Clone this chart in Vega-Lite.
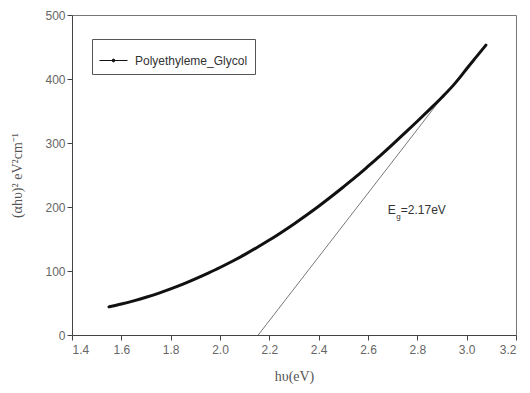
{
  "$schema": "https://vega.github.io/schema/vega-lite/v6.json",
  "width": 444,
  "height": 320,
  "autosize": "none",
  "padding": {"left": 72, "top": 15, "right": 14, "bottom": 58},
  "background": "white",
  "config": {
    "view": {"stroke": "#777", "strokeWidth": 1},
    "axis": {"grid": false, "domainColor": "#444", "tickColor": "#444", "labelColor": "#666", "labelFont": "Liberation Sans", "labelFontSize": 12, "titleFont": "Liberation Serif", "titleFontWeight": "normal", "titleFontSize": 14, "titleColor": "#555", "tickSize": 5}
  },
  "datasets": {
    "curve": [
      {"x": 1.55, "y": 44, "s": "Polyethyleme_Glycol"},
      {"x": 1.60, "y": 48.4, "s": "Polyethyleme_Glycol"},
      {"x": 1.65, "y": 53.4, "s": "Polyethyleme_Glycol"},
      {"x": 1.70, "y": 58.9, "s": "Polyethyleme_Glycol"},
      {"x": 1.75, "y": 65.1, "s": "Polyethyleme_Glycol"},
      {"x": 1.80, "y": 72.0, "s": "Polyethyleme_Glycol"},
      {"x": 1.85, "y": 79.4, "s": "Polyethyleme_Glycol"},
      {"x": 1.90, "y": 87.6, "s": "Polyethyleme_Glycol"},
      {"x": 1.95, "y": 96.4, "s": "Polyethyleme_Glycol"},
      {"x": 2.00, "y": 105.5, "s": "Polyethyleme_Glycol"},
      {"x": 2.05, "y": 115.2, "s": "Polyethyleme_Glycol"},
      {"x": 2.10, "y": 125.6, "s": "Polyethyleme_Glycol"},
      {"x": 2.15, "y": 136.7, "s": "Polyethyleme_Glycol"},
      {"x": 2.20, "y": 148.3, "s": "Polyethyleme_Glycol"},
      {"x": 2.25, "y": 160.7, "s": "Polyethyleme_Glycol"},
      {"x": 2.30, "y": 173.6, "s": "Polyethyleme_Glycol"},
      {"x": 2.35, "y": 187.1, "s": "Polyethyleme_Glycol"},
      {"x": 2.40, "y": 201.2, "s": "Polyethyleme_Glycol"},
      {"x": 2.45, "y": 216.0, "s": "Polyethyleme_Glycol"},
      {"x": 2.50, "y": 231.3, "s": "Polyethyleme_Glycol"},
      {"x": 2.55, "y": 247.0, "s": "Polyethyleme_Glycol"},
      {"x": 2.60, "y": 263.5, "s": "Polyethyleme_Glycol"},
      {"x": 2.65, "y": 280.3, "s": "Polyethyleme_Glycol"},
      {"x": 2.70, "y": 297.8, "s": "Polyethyleme_Glycol"},
      {"x": 2.75, "y": 315.8, "s": "Polyethyleme_Glycol"},
      {"x": 2.80, "y": 334.0, "s": "Polyethyleme_Glycol"},
      {"x": 2.85, "y": 352.5, "s": "Polyethyleme_Glycol"},
      {"x": 2.90, "y": 371.5, "s": "Polyethyleme_Glycol"},
      {"x": 2.95, "y": 392.0, "s": "Polyethyleme_Glycol"},
      {"x": 2.98, "y": 406.0, "s": "Polyethyleme_Glycol"},
      {"x": 3.00, "y": 416.0, "s": "Polyethyleme_Glycol"},
      {"x": 3.04, "y": 435.0, "s": "Polyethyleme_Glycol"},
      {"x": 3.078, "y": 453, "s": "Polyethyleme_Glycol"}
    ],
    "tangent": [
      {"x": 2.155, "y": 0},
      {"x": 2.91, "y": 376}
    ],
    "labels": [
      {"x": 2.68, "y": 195, "t": "E", "k": "main"},
      {"x": 2.715, "y": 185, "t": "g", "k": "sub"},
      {"x": 2.733, "y": 195, "t": "=2.17eV", "k": "main"}
    ]
  },
  "layer": [
    {
      "data": {"name": "tangent"},
      "mark": {"type": "line", "color": "#555", "strokeWidth": 0.8},
      "encoding": {
        "x": {"field": "x", "type": "quantitative", "scale": {"domain": [1.4, 3.2], "nice": false, "zero": false},
          "axis": {"values": [1.4, 1.6, 1.8, 2.0, 2.2, 2.4, 2.6, 2.8, 3.0, 3.2], "format": ".1f", "title": "hυ(eV)", "titlePadding": 14, "labelPadding": 4}},
        "y": {"field": "y", "type": "quantitative", "scale": {"domain": [0, 500], "nice": false},
          "axis": {"values": [0, 100, 200, 300, 400, 500], "title": "(αhυ)² eV²cm⁻¹", "titlePadding": 20}}
      }
    },
    {
      "data": {"name": "curve"},
      "mark": {"type": "line", "strokeWidth": 3, "interpolate": "monotone", "strokeCap": "round"},
      "encoding": {
        "x": {"field": "x", "type": "quantitative"},
        "y": {"field": "y", "type": "quantitative"},
        "color": {"field": "s", "type": "nominal", "scale": {"range": ["#111"]},
          "legend": {"title": null, "orient": "none", "legendX": 20, "legendY": 24, "strokeColor": "#555", "padding": 7, "labelFont": "Liberation Sans", "labelFontSize": 12, "labelColor": "#333", "symbolType": "M-1,0L1,0M-0.1,0A0.1,0.1 0 1,0 0.1,0A0.1,0.1 0 1,0 -0.1,0", "symbolSize": 784, "symbolStrokeWidth": 1, "symbolStrokeColor": "#222", "symbolFillColor": "#222", "labelOffset": 7}}
      }
    },
    {
      "data": {"name": "labels"},
      "mark": {"type": "text", "align": "left", "baseline": "middle", "font": "Liberation Sans", "color": "#333"},
      "encoding": {
        "x": {"field": "x", "type": "quantitative"},
        "y": {"field": "y", "type": "quantitative"},
        "text": {"field": "t"},
        "size": {"field": "k", "type": "nominal", "scale": {"domain": ["main", "sub"], "range": [12, 8]}, "legend": null}
      }
    }
  ]
}
